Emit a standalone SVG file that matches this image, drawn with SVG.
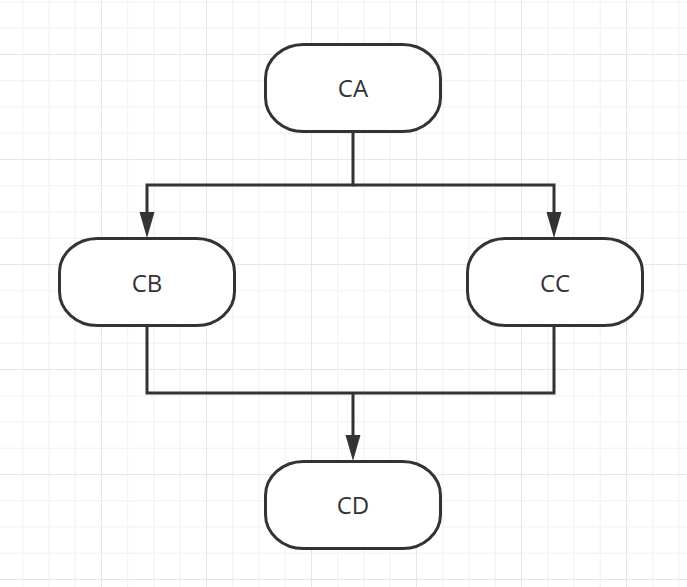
<svg xmlns="http://www.w3.org/2000/svg" width="687" height="587" viewBox="0 0 687 587">
  <defs>
    <pattern id="minor" x="-4" y="1.5" width="26.25" height="26.25" patternUnits="userSpaceOnUse">
      <path d="M0 0 V26.25 M0 0 H26.25" fill="none" stroke="#f0f0f0" stroke-width="2"/>
    </pattern>
    <pattern id="major" x="-4" y="-51" width="105" height="105" patternUnits="userSpaceOnUse">
      <path d="M0 0 V105 M0 0 H105" fill="none" stroke="#e6e6e6" stroke-width="2"/>
    </pattern>
    <style>
      .node rect { fill: #fff; stroke: #333; stroke-width: 3; }
      .node text { font-family: "Open Sans", "Noto Sans", sans-serif; font-size: 24px; fill: #333; text-anchor: middle; }
      .edge { fill: none; stroke: #333; stroke-width: 3; }
      .head { fill: #333; }
    </style>
  </defs>

  <rect width="687" height="587" fill="#fff"/>
  <rect width="687" height="587" fill="url(#minor)"/>
  <rect width="687" height="587" fill="url(#major)"/>

  <g id="connectors">
    <path class="edge" d="M353 132 V185 H147 V213"/>
    <path class="edge" d="M353 185 H554 V213"/>
    <path class="head" d="M139.5 212 L147 238 L154.5 212 Z"/>
    <path class="head" d="M546.5 212 L554 238 L561.5 212 Z"/>
    <path class="edge" d="M147 326 V393 H554 V326"/>
    <path class="edge" d="M353 393 V436"/>
    <path class="head" d="M345.5 435 L353 461 L360.5 435 Z"/>
  </g>

  <g id="CA" class="node">
    <rect x="265.5" y="44.5" width="175" height="87" rx="38" ry="34"/>
    <text x="353" y="97">CA</text>
  </g>
  <g id="CB" class="node">
    <rect x="59.5" y="238.5" width="175" height="87" rx="38" ry="34"/>
    <text x="147" y="292">CB</text>
  </g>
  <g id="CC" class="node">
    <rect x="467.5" y="238.5" width="175" height="87" rx="38" ry="34"/>
    <text x="555" y="292">CC</text>
  </g>
  <g id="CD" class="node">
    <rect x="265.5" y="461.5" width="175" height="87" rx="38" ry="34"/>
    <text x="353" y="514">CD</text>
  </g>
</svg>
